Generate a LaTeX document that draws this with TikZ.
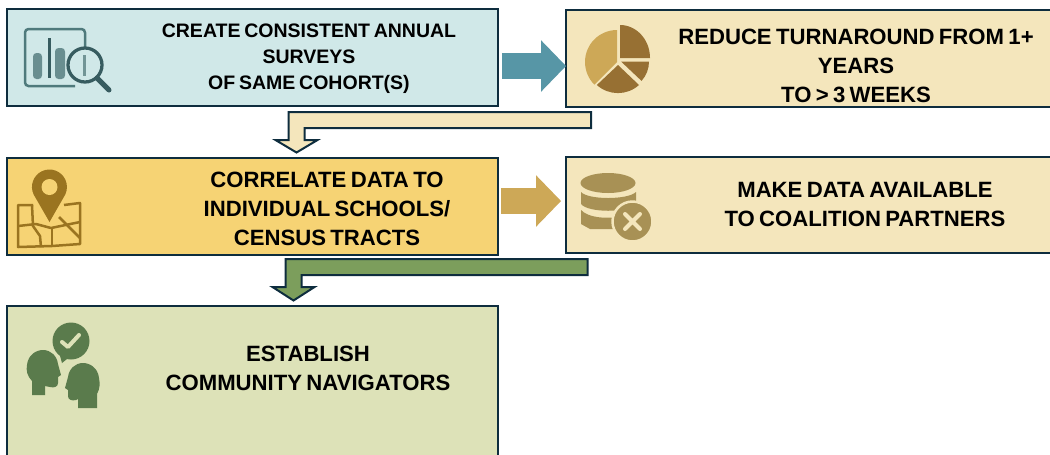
\documentclass[tikz,border=0pt]{standalone}
\usepackage{fontspec}
\setmainfont[WordSpace=0.7]{Liberation Sans}
\usetikzlibrary{arrows.meta,calc}

\definecolor{edgeblue}{HTML}{0E2D3E}
\definecolor{paleteal}{HTML}{D0E8E8}
\definecolor{palecream}{HTML}{F4E6BC}
\definecolor{sunyellow}{HTML}{F6D374}
\definecolor{palegreen}{HTML}{DDE2B8}
\definecolor{flowteal}{HTML}{5796A6}
\definecolor{flowgold}{HTML}{CDA857}
\definecolor{flowgreen}{HTML}{7C9E5C}
\definecolor{iconteal}{HTML}{4F7A7C}
\definecolor{icondark}{HTML}{375C60}
\definecolor{piedark}{HTML}{977033}
\definecolor{pinbrown}{HTML}{9A7420}
\definecolor{dbolive}{HTML}{A89155}
\definecolor{headgreen}{HTML}{5A7B4C}

\tikzset{
    stagebox/.style={draw=edgeblue, line width=0.04cm, inner sep=0pt, outer sep=0pt},
    stagetext/.style={align=center, font=\bfseries\fontsize{12.6}{16.5}\selectfont, inner sep=0pt},
    flowarrow/.style={line width=0.52cm, -{Triangle[length=0.5cm,width=1cm]}},
    bentarrow/.style={draw=edgeblue, line width=0.04cm, miter limit=10},
}

\begin{document}
\begin{tikzpicture}[x=0.02cm, y=-0.02cm]
    \useasboundingbox (0,0) rectangle (1050,454);
    \clip (0,0) rectangle (1050,454);

    % Stage boxes
    \node[stagebox, fill=paleteal, minimum width=9.82cm, minimum height=1.94cm] (survey) at (252.5,57.5) {};
    \node[stagebox, fill=palecream, minimum width=9.8cm, minimum height=1.94cm] (turnaround) at (811,58.5) {};
    \node[stagebox, fill=sunyellow, minimum width=9.82cm, minimum height=1.94cm] (correlate) at (252.5,206.5) {};
    \node[stagebox, fill=palecream, minimum width=9.8cm, minimum height=1.92cm] (available) at (811,205) {};
    \node[stagebox, fill=palegreen, minimum width=9.82cm, minimum height=3.2cm] (navigators) at (252.5,386) {};

    % Stage labels
    \node[stagetext, font=\bfseries\fontsize{11.1}{14.8}\selectfont] (surveytext) at (309,59) {CREATE CONSISTENT ANNUAL\\SURVEYS\\OF SAME COHORT(S)};
    \node[stagetext] (turnaroundtext) at (856,66) {REDUCE TURNAROUND FROM 1+\\YEARS\\TO > 3 WEEKS};
    \node[stagetext] (correlatetext) at (327,209) {CORRELATE DATA TO\\INDIVIDUAL SCHOOLS/\\CENSUS TRACTS};
    \node[stagetext] (availabletext) at (865,204) {MAKE DATA AVAILABLE\\TO COALITION PARTNERS};
    \node[stagetext] (navigatorstext) at (308,368) {ESTABLISH\\COMMUNITY NAVIGATORS};

    % Straight arrows
    \coordinate (flowa) at (0,66);
    \coordinate (flowb) at (0,201);
    \draw[flowarrow, flowteal, shorten <=0.08cm] (survey.east |- flowa) -- (turnaround.west |- flowa);
    \draw[flowarrow, flowgold, shorten <=0.06cm, shorten >=0.1cm] (correlate.east |- flowb) -- (available.west |- flowb);

    % Bent arrows
    \coordinate (benta) at (591,112);
    \coordinate (bentb) at (587.5,259);
    \draw[bentarrow, fill=palecream] (benta) -- ++(0,16) -- ++(-286.5,0) -- ++(0,12) -- ++(13,0) -- ++(-21,12.5) -- ++(-21,-12.5) -- ++(13,0) -- ++(0,-28) -- cycle;
    \draw[bentarrow, fill=flowgreen] (bentb) -- ++(0,16) -- ++(-286,0) -- ++(0,12) -- ++(13,0) -- ++(-21,13.5) -- ++(-21,-13.5) -- ++(13,0) -- ++(0,-28) -- cycle;

    % Chart icon
    \draw[iconteal, line width=0.05cm, rounded corners=2pt] (85,49) -- (85,29) -- (25,29) -- (25,86) -- (75,86);
    \fill[iconteal!85, rounded corners=2pt] (33,53) rectangle (42,79);
    \fill[iconteal!85, rounded corners=2pt] (55,48) rectangle (65,79);
    \draw[icondark, line width=0.07cm] (49.5,38) -- (49.5,78);
    \draw[iconteal!80, line width=0.06cm] (84,55) -- (84,76);
    \draw[icondark, line width=0.065cm] (85,65) circle (17);
    \draw[icondark, line width=0.1cm, line cap=round] (97,78) -- (109,90);

    % Pie icon
    \fill[flowgold] (617,62) -- (617,30) arc (270:135:32) -- cycle;
    \fill[piedark] (620,58) -- (620,25) arc (270:360:30 and 33) -- cycle;
    \fill[piedark] (621,61.5) -- (649,61.5) arc (0:42:29) -- cycle;
    \fill[piedark] (618,65) -- (639,85) arc (48:132:31.5) -- cycle;

    % Map icon
    \draw[pinbrown, line width=0.05cm, line join=round] (33,205) -- (18,205) -- (18,247) -- (52,246) -- (80,244) -- (80,203) -- (64,205);
    \draw[pinbrown, line width=0.05cm, line join=round] (18,226) -- (36,224) -- (51,228) -- (80,222);
    \draw[pinbrown, line width=0.05cm, line join=round] (32,205) -- (33,226) -- (40,236) -- (41,247);
    \draw[pinbrown, line width=0.05cm] (52,228) -- (52,246);
    \draw[pinbrown, line width=0.05cm] (59,217) -- (80,238);
    \fill[pinbrown] (49.5,222) -- (33.6,194.4) arc (155:385:17.5) -- cycle;
    \fill[sunyellow] (49.5,187) circle (8);

    % Database icon
    \fill[dbolive] (608,183) ellipse (27.5 and 10);
    \fill[dbolive] (581,192) .. controls (588,200) and (628,200) .. (636,192) -- (636,204) .. controls (628,213) and (588,213) .. (581,204) -- cycle;
    \fill[dbolive] (581,210) .. controls (588,218) and (610,220) .. (625,215) -- (625,229) -- (590,229) -- (581,224) -- cycle;
    \fill[dbolive, draw=palecream, line width=0.05cm] (632.5,221.5) circle (20);
    \draw[palecream, line width=0.08cm, line cap=round] (625,214) -- (640,229) (640,214) -- (625,229);

    % Community icon
    \fill[headgreen] (71,341) circle (18.5);
    \fill[headgreen] (59,352) -- (62,363) -- (72,355) -- cycle;
    \draw[palegreen, line width=0.08cm, line cap=round, line join=round] (62,342) -- (68,347) -- (79,335);
    \fill[headgreen] (32,395) -- (32,381) .. controls (27,376) and (26,370) .. (27,365) .. controls (28,355) and (36,350) .. (43,350) .. controls (51,350) and (57,356) .. (58,364) -- (61,375) -- (58,377) -- (58,383) .. controls (58,387) and (54,388) .. (50,387) -- (45,386) -- (45,395) -- cycle;
    \fill[headgreen] (97,408) -- (97,394) .. controls (100,389) and (100,383) .. (99,378) .. controls (98,368) and (90,363) .. (83,363) .. controls (75,363) and (69,369) .. (68,377) -- (65,388) -- (68,390) -- (68,396) .. controls (68,400) and (72,401) .. (76,400) -- (78,399) -- (78,408) -- cycle;
\end{tikzpicture}
\end{document}
